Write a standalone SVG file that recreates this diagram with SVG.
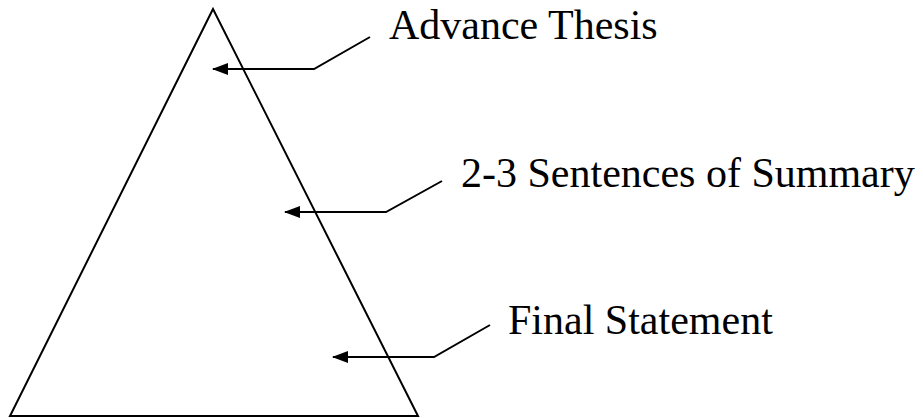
<svg xmlns="http://www.w3.org/2000/svg" width="923" height="418" viewBox="0 0 923 418">
<style>
.ln{fill:none;stroke:#000;stroke-width:2}
.lb{font-family:"Liberation Serif","Times New Roman",serif;font-size:42px;fill:#000}
</style>
<defs>
<marker id="ah" viewBox="0 0 16 12" refX="15" refY="6" markerWidth="16" markerHeight="12" markerUnits="userSpaceOnUse" orient="auto">
<path d="M0,0 L16,6 L0,12 Z" fill="#000"/>
</marker>
</defs>
<rect width="923" height="418" fill="#fff"/>
<g id="triangle"><path class="ln" d="M213,9 L10,416 L418,416 Z"/></g>
<g id="label-thesis"><text class="lb" x="389" y="39">Advance Thesis</text></g>
<g id="label-summary"><text class="lb" x="461" y="187">2-3 Sentences of Summary</text></g>
<g id="label-final"><text class="lb" x="508" y="334">Final Statement</text></g>
<g id="connectors">
<path class="ln" d="M370,37 L314,69 L213,69" marker-end="url(#ah)"/>
<path class="ln" d="M442,181 L386,212 L285,212" marker-end="url(#ah)"/>
<path class="ln" d="M490,325 L434,357 L333,357" marker-end="url(#ah)"/>
</g>
</svg>
